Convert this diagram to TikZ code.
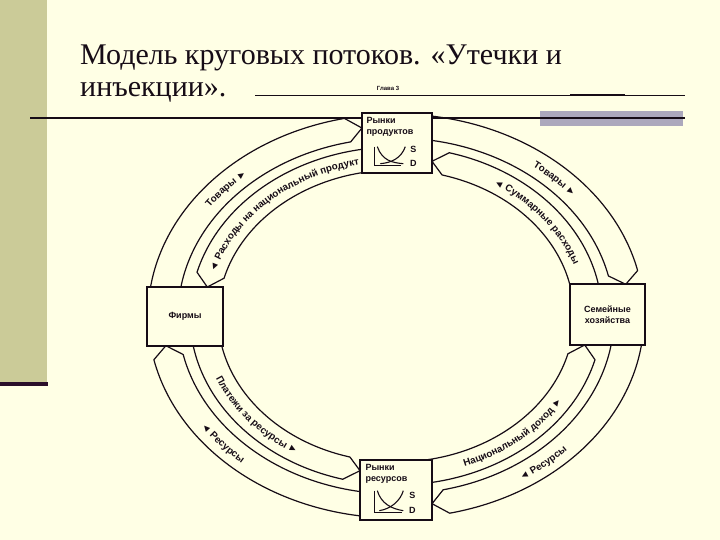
\documentclass[tikz,border=0pt]{standalone}
\usepackage{fontspec}
\setmainfont{Liberation Serif}
\setsansfont{Liberation Sans}
\usetikzlibrary{calc,decorations.text}

\definecolor{slidebg}{RGB}{255,255,229}
\definecolor{stripcol}{RGB}{203,203,152}
\definecolor{barcol}{RGB}{172,168,188}
\definecolor{inkcol}{RGB}{22,12,22}
\definecolor{darkline}{RGB}{42,14,42}

\newcommand\flowfont{\sffamily\bfseries\fontsize{9.8}{9.8}\selectfont}

\tikzset{
  mkt/.style={draw=inkcol, line width=1.4pt, fill=slidebg},
  mkttext/.style={font=\sffamily\bfseries\fontsize{9}{11}\selectfont, text=inkcol, inner sep=0pt},
  flow/.style={draw=inkcol, line width=1.2pt, line join=round},
  flowtext/.style={decorate, decoration={text along path, text align=center, text color=inkcol}},
  sdline/.style={draw=inkcol, line width=1.1pt}
}

\begin{document}
\begin{tikzpicture}[x=1pt,y=1pt]
\useasboundingbox (0,0) rectangle (720,540);
\fill[slidebg] (0,0) rectangle (720,540);
\fill[stripcol] (0,157) rectangle (47,540);
\fill[darkline] (0,154) rectangle (48,158);
\fill[barcol] (540,414) rectangle (683,429);

% title
\node[anchor=base west, inner sep=0pt, text=inkcol, font=\fontsize{30}{30}\selectfont] (title1) at (80,475) {Модель круговых потоков. «Утечки и};
\node[anchor=base west, inner sep=0pt, text=inkcol, font=\fontsize{30}{30}\selectfont] (title2) at (80,443) {инъекции».};
\node[inner sep=0pt, text=inkcol, font=\sffamily\bfseries\fontsize{6}{6}\selectfont] (chapter) at (388,452) {Глава 3};

% rules
\draw[inkcol, line width=1pt] (255,444) -- (685,444);
\draw[inkcol, line width=2pt] (570,445) -- (625,445);
\draw[inkcol, line width=2.5pt] (30,422) -- (685,422);

\coordinate (c) at (396,224);

% top left
\draw[flow] ($(c)+(180:248 and 202)$) arc[start angle=180, end angle=102, x radius=248pt, y radius=202pt]
  -- ($(c)+(98.4:233 and 190)$)
  -- ($(c)+(102:218 and 178)$) arc[start angle=102, end angle=180, x radius=218pt, y radius=178pt] -- cycle;
\draw[flow] ($(c)+(90:206 and 169)$) arc[start angle=90, end angle=165, x radius=206pt, y radius=169pt]
  -- ($(c)+(169.4:192 and 157.5)$)
  -- ($(c)+(165:178 and 146)$) arc[start angle=165, end angle=90, x radius=178pt, y radius=146pt] -- cycle;

% top right
\draw[flow] ($(c)+(90:248 and 202)$) arc[start angle=90, end angle=13, x radius=248pt, y radius=202pt]
  -- ($(c)+(9.6:233 and 190)$)
  -- ($(c)+(13:218 and 178)$) arc[start angle=13, end angle=90, x radius=218pt, y radius=178pt] -- cycle;
\draw[flow] ($(c)+(0:206 and 169)$) arc[start angle=0, end angle=75, x radius=206pt, y radius=169pt]
  -- ($(c)+(79.2:192 and 157.5)$)
  -- ($(c)+(75:178 and 146)$) arc[start angle=75, end angle=0, x radius=178pt, y radius=146pt] -- cycle;

% bottom left
\draw[flow] ($(c)+(270:248 and 202)$) arc[start angle=270, end angle=192.5, x radius=248pt, y radius=202pt]
  -- ($(c)+(189:233 and 190)$)
  -- ($(c)+(192.5:218 and 178)$) arc[start angle=192.5, end angle=270, x radius=218pt, y radius=178pt] -- cycle;
\draw[flow] ($(c)+(180:206 and 169)$) arc[start angle=180, end angle=255, x radius=206pt, y radius=169pt]
  -- ($(c)+(259.2:192 and 157.5)$)
  -- ($(c)+(255:178 and 146)$) arc[start angle=255, end angle=180, x radius=178pt, y radius=146pt] -- cycle;

% bottom right
\draw[flow] ($(c)+(360:248 and 202)$) arc[start angle=360, end angle=282.5, x radius=248pt, y radius=202pt]
  -- ($(c)+(278.9:233 and 190)$)
  -- ($(c)+(282.5:218 and 178)$) arc[start angle=282.5, end angle=360, x radius=218pt, y radius=178pt] -- cycle;
\draw[flow] ($(c)+(270:206 and 169)$) arc[start angle=270, end angle=345, x radius=206pt, y radius=169pt]
  -- ($(c)+(349.4:192 and 157.5)$)
  -- ($(c)+(345:178 and 146)$) arc[start angle=345, end angle=270, x radius=178pt, y radius=146pt] -- cycle;

% flow labels
\path[flowtext, decoration={text={|\flowfont|Товары ►}}] ($(c)+(170:229 and 186)$) arc[start angle=170, end angle=108, x radius=229pt, y radius=186pt];
\path[flowtext, decoration={text={|\flowfont|◄ Расходы на национальный продукт}}] ($(c)+(171:188.5 and 154)$) arc[start angle=171, end angle=95, x radius=188.5pt, y radius=154pt];
\path[flowtext, decoration={text={|\flowfont|Товары ►}}] ($(c)+(76:229 and 186)$) arc[start angle=76, end angle=14, x radius=229pt, y radius=186pt];
\path[flowtext, decoration={text={|\flowfont|◄ Суммарные расходы}}] ($(c)+(72:188.5 and 154)$) arc[start angle=72, end angle=4, x radius=188.5pt, y radius=154pt];
\path[flowtext, decoration={text={|\flowfont|Платежи за ресурсы ►}}] ($(c)+(188:195.5 and 161)$) arc[start angle=188, end angle=252, x radius=195.5pt, y radius=161pt];
\path[flowtext, decoration={text={|\flowfont|◄ Ресурсы}}] ($(c)+(195:237 and 194)$) arc[start angle=195, end angle=247, x radius=237pt, y radius=194pt];
\path[flowtext, decoration={text={|\flowfont|Национальный доход ►}}] ($(c)+(282:195.5 and 161)$) arc[start angle=282, end angle=338, x radius=195.5pt, y radius=161pt];
\path[flowtext, decoration={text={|\flowfont|◄ Ресурсы}}] ($(c)+(285:237 and 194)$) arc[start angle=285, end angle=335, x radius=237pt, y radius=194pt];

% markets and sectors
\node[mkt, minimum width=70pt, minimum height=60pt] (prodmkt) at (397,397) {};
\node[mkt, minimum width=72pt, minimum height=60pt] (resmkt) at (396,50) {};
\node[mkt, minimum width=76pt, minimum height=59pt, mkttext, inner sep=2pt] (firms) at (185,223.5) {Фирмы};
\node[mkt, minimum width=75pt, minimum height=61pt, mkttext, inner sep=2pt, align=center] (homes) at (607.5,225.5) {Семейные\\хозяйства};

\node[mkttext, anchor=north west, align=left] (prodname) at ($(prodmkt.north west)+(5,-5)$) {Рынки\\продуктов};
\begin{scope}[shift={(prodmkt.south west)}]
\draw[sdline] (13,27) -- (13,8) -- (40,8);
\draw[sdline] (16,27) .. controls (21,13) and (31,11) .. (42,10);
\draw[sdline] (19,10) .. controls (31,11) and (40,16) .. (44,27);
\node[mkttext] (prodS) at (52,24) {S};
\node[mkttext] (prodD) at (52,10) {D};
\end{scope}

\node[mkttext, anchor=north west, align=left] (resname) at ($(resmkt.north west)+(6,-5)$) {Рынки\\ресурсов};
\begin{scope}[shift={(resmkt.south west)}]
\draw[sdline] (15,30) -- (15,8) -- (43,8);
\draw[sdline] (18,30) .. controls (22,17) and (32,12) .. (44,10);
\draw[sdline] (20,10) .. controls (32,12) and (41,20) .. (44,30);
\node[mkttext] (resS) at (53,25) {S};
\node[mkttext] (resD) at (53,10) {D};
\end{scope}
\end{tikzpicture}
\end{document}
